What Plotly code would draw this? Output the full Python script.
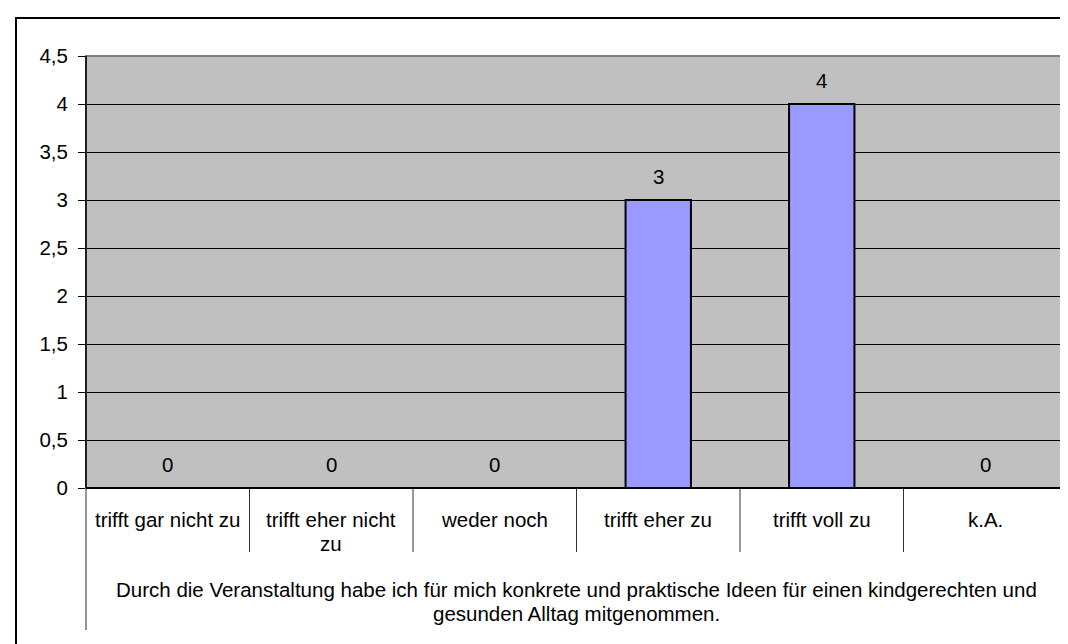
import plotly.graph_objects as go

categories = ["trifft gar nicht zu", "trifft eher nicht zu", "weder noch",
              "trifft eher zu", "trifft voll zu", "k.A."]
tick_text = ["trifft gar nicht zu", "trifft eher nicht<br>zu", "weder noch",
             "trifft eher zu", "trifft voll zu", "k.A."]
values = [0, 0, 0, 3, 4, 0]
group_label = ("Durch die Veranstaltung habe ich für mich konkrete und praktische Ideen für einen kindgerechten und"
               "<br>gesunden Alltag mitgenommen.")

W, H = 1068, 644
L, R, T, B = 78, 1059, 48, 480
FS = 20.5


def px(x):
    return (x - L) / (R - L)


def py(y):
    return (B - y) / (B - T)


FONT = "Liberation Sans, Arial, sans-serif"

fig = go.Figure()
fig.add_trace(go.Bar(
    x=categories, y=values, width=0.4,
    marker=dict(color="#9999FF", line=dict(color="#000000", width=2)),
    hoverinfo="skip",
))

annotations = []
for c, v in zip(categories, values):
    annotations.append(dict(x=c, y=v, xref="x", yref="y", text=str(v), showarrow=False,
                            yshift=24, font=dict(size=FS, color="#000", family=FONT)))
for c, t in zip(categories, tick_text):
    for k, line in enumerate(t.split("<br>")):
        annotations.append(dict(x=c, y=0, xref="x", yref="paper", text=line, showarrow=False,
                                yanchor="middle", yshift=-31 - 24 * k,
                                font=dict(size=FS, color="#000", family=FONT)))
for k, line in enumerate(group_label.split("<br>")):
    annotations.append(dict(x=0.5, y=0, xref="paper", yref="paper", text=line, showarrow=False,
                            yanchor="middle", yshift=-101 - 24 * k,
                            font=dict(size=FS, color="#000", family=FONT)))

shapes = []
# outer border
shapes.append(dict(type="rect", xref="paper", yref="paper", x0=px(8), x1=px(1080), y0=py(660), y1=py(10),
                   line=dict(color="#000", width=2), fillcolor="rgba(0,0,0,0)", layer="below"))
# plot border (gray)
shapes.append(dict(type="rect", xref="paper", yref="paper", x0=0, x1=1, y0=0, y1=1,
                   line=dict(color="#808080", width=2), fillcolor="rgba(0,0,0,0)", layer="above"))
# category separators
n = len(categories)
for i in range(1, n):
    xs = px(L + i * (R - L) / n)
    shapes.append(dict(type="line", xref="paper", yref="paper", x0=xs, x1=xs, y0=0, y1=py(544),
                       line=dict(color="#333", width=1)))
# outer group lines
for xs in (0, 1):
    shapes.append(dict(type="line", xref="paper", yref="paper", x0=xs, x1=xs, y0=0, y1=py(622),
                       line=dict(color="#707070", width=1.5)))
# left axis line black
shapes.append(dict(type="line", xref="paper", yref="paper", x0=0, x1=0, y0=0, y1=1,
                   line=dict(color="#000", width=1.5)))
# baseline
shapes.append(dict(type="line", xref="paper", yref="paper", x0=0, x1=1, y0=0, y1=0,
                   line=dict(color="#000", width=2)))

fig.update_layout(
    width=W, height=H,
    margin=dict(l=L, r=W - R, t=T, b=H - B, pad=0),
    paper_bgcolor="#FFFFFF", plot_bgcolor="#C0C0C0",
    separators=",.",
    showlegend=False,
    bargap=0.6,
    font=dict(family=FONT, size=FS, color="#000"),
    annotations=annotations,
    shapes=shapes,
    xaxis=dict(showticklabels=False, showgrid=False, zeroline=False, ticks="",
               showline=False, fixedrange=True),
    yaxis=dict(range=[0, 4.5], dtick=0.5, tick0=0, showgrid=True, gridcolor="#000", gridwidth=1,
               zeroline=False, ticks="outside", ticklen=7, tickcolor="#000", tickwidth=1,
               ticklabelstandoff=6,
               tickfont=dict(size=FS, color="#000", family=FONT), showline=False, fixedrange=True),
)

fig.write_html("out.html")
